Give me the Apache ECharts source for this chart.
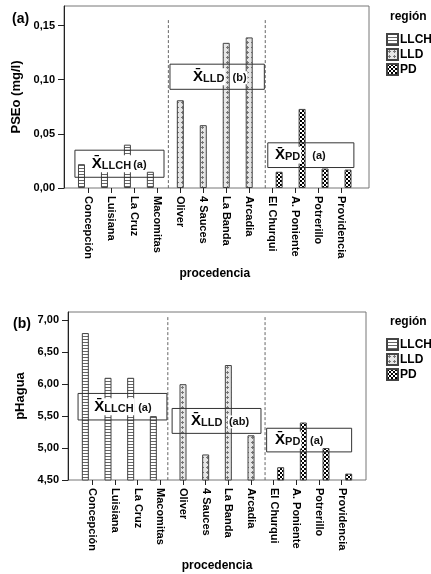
<!DOCTYPE html>
<html>
<head>
<meta charset="utf-8">
<script src="https://cdn.jsdelivr.net/npm/echarts@6/dist/echarts.min.js"></script>
<style>
    * { padding: 0; margin: 0 }
    html, body { width: 100%; height: 100%; background: #fff }
    #container { width: 431px; height: 574px }
</style>
</head>
<body>
<div id="container"></div>
<script>
    // datos
    const procedencia = ['Concepción', 'Luisiana', 'La Cruz', 'Macomitas', 'Oliver', '4 Sauces',
        'La Banda', 'Arcadia', 'El Churqui', 'A. Poniente', 'Potrerillo', 'Providencia'];
    const regiones = ['LLCH', 'LLD', 'PD'];
    const regionDeSitio = [0, 0, 0, 0, 1, 1, 1, 1, 2, 2, 2, 2];
    const pseo = [0.022, 0.017, 0.040, 0.015, 0.081, 0.058, 0.134, 0.139, 0.015, 0.073, 0.018, 0.017];
    const phAgua = [6.80, 6.10, 6.10, 5.50, 6.00, 4.90, 6.30, 5.20, 4.70, 5.40, 5.00, 4.60];
    const pseoTicks = [0, 0.05, 0.10, 0.15];
    const phTicks = [4.5, 5.0, 5.5, 6.0, 6.5, 7.0];
    const letrasPseo = ['(a)', '(b)', '(a)'];
    const letrasPh = ['(a)', '(ab)', '(a)'];

    // cajas de medias (x en unidades de categoria, y en valores del eje)
    const cajasPseo = [[-0.59, 3.29, 0.0099, 0.0349], [3.55, 7.66, 0.0911, 0.1143], [7.81, 11.56, 0.0189, 0.0417]];
    const textoPseo = [[0.10, 2.24], [4.51, 6.58], [8.08, 10.04]];
    const cajasPh = [[-0.63, 3.29, 5.44, 5.855], [3.52, 7.44, 5.23, 5.62], [7.69, 11.44, 4.94, 5.31]];
    const textoPh = [[0.04, 2.32], [4.31, 6.47], [8.02, 9.90]];
    const separadoresPseo = [[3.48, 0.155], [7.70, 0.155]];
    const separadoresPh = [[3.33, 7.05], [7.62, 7.05]];

    const FONT = '"Liberation Sans", Arial, sans-serif';

    function patron(w, h, draw) {
        const c = document.createElement('canvas');
        c.width = w; c.height = h;
        const ctx = c.getContext('2d');
        ctx.fillStyle = '#fff';
        ctx.fillRect(0, 0, w, h);
        draw(ctx);
        return { image: c, repeat: 'repeat' };
    }
    const rayas = patron(4, 3, ctx => { ctx.fillStyle = '#666'; ctx.fillRect(0, 0, 4, 1); });
    const cruces = patron(5, 5, ctx => {
        ctx.fillStyle = '#e6e6e6'; ctx.fillRect(0, 0, 5, 5);
        ctx.fillStyle = '#777'; ctx.fillRect(2, 1, 1, 3); ctx.fillRect(1, 2, 3, 1);
    });
    const damero = patron(4, 4, ctx => {
        ctx.fillStyle = '#000'; ctx.fillRect(0, 0, 2, 2); ctx.fillRect(2, 2, 2, 2);
    });
    const patrones = [rayas, cruces, damero];

    const fmt = v => v.toFixed(2).replace('.', ',');

    function seriesDe(valores, gridIdx) {
        return regiones.map((r, k) => ({
            name: r,
            type: 'bar',
            xAxisIndex: gridIdx,
            yAxisIndex: gridIdx,
            barWidth: 7,
            barGap: '0%',
            itemStyle: { color: patrones[k], borderColor: '#444', borderWidth: 1 },
            data: valores.map((v, i) => regionDeSitio[i] === k ? v : '-')
        }));
    }

    function marco(min, max, ticks, nombre, gap) {
        return {
            type: 'value', min: min, max: max,
            name: nombre, nameLocation: 'middle', nameGap: gap, nameRotate: 90,
            nameTextStyle: { fontFamily: FONT, fontWeight: 'bold', fontSize: 13, color: '#000' },
            axisLine: { show: true, lineStyle: { color: '#222' } },
            axisTick: { show: true, length: 6, customValues: ticks, lineStyle: { color: '#222' } },
            axisLabel: { customValues: ticks, formatter: fmt, margin: 9, fontFamily: FONT, fontWeight: 'bold', fontSize: 11, color: '#000' },
            splitLine: { show: false }
        };
    }
    function ejeOculto(gridIdx, min, max) {
        return { type: 'value', gridIndex: gridIdx, min: min, max: max, show: false, splitLine: { show: false } };
    }
    function ejeCategorias(gridIdx) {
        return {
            type: 'category', gridIndex: gridIdx, data: procedencia,
            name: 'procedencia', nameLocation: 'middle', nameGap: 80,
            nameTextStyle: { fontFamily: FONT, fontWeight: 'bold', fontSize: 12, color: '#000' },
            axisLine: { show: false },
            axisTick: { show: true, alignWithLabel: true, length: 5, lineStyle: { color: '#222' } },
            axisLabel: { rotate: -90, margin: 8, interval: 0, fontFamily: FONT, fontWeight: 'bold', fontSize: 11, color: '#000' }
        };
    }
    function leyenda(top) {
        return {
            orient: 'vertical', left: 386, top: top, padding: 0, itemWidth: 11, itemHeight: 11, itemGap: 2,
            icon: 'rect', data: regiones,
            textStyle: { fontFamily: FONT, fontWeight: 'bold', fontSize: 12, color: '#000', padding: [0, 0, 0, -3] }
        };
    }
    const tituloStyle = { fontFamily: FONT, fontWeight: 'bold', fontSize: 14, color: '#000' };
    const regionStyle = { fontFamily: FONT, fontWeight: 'bold', fontSize: 12, color: '#000' };

    const myChart = echarts.init(document.getElementById('container'));
    myChart.setOption({
        animation: false,
        title: [
            { text: '(a)', left: 12, top: 12, padding: 0, textStyle: tituloStyle },
            { text: 'región', left: 390, top: 11, padding: 0, textStyle: regionStyle },
            { text: '(b)', left: 13, top: 317, padding: 0, textStyle: tituloStyle },
            { text: 'región', left: 390, top: 316, padding: 0, textStyle: regionStyle }
        ],
        legend: [leyenda(33), leyenda(338)],
        grid: [
            { left: 64, top: 6, width: 305, height: 182, show: true, borderColor: '#777', borderWidth: 1 },
            { left: 77, top: 6, width: 275.5, height: 182 },
            { left: 68, top: 312, width: 298, height: 168, show: true, borderColor: '#777', borderWidth: 1 },
            { left: 81, top: 312, width: 272, height: 168 }
        ],
        xAxis: [
            { type: 'value', gridIndex: 0, show: false },
            ejeCategorias(1),
            { type: 'value', gridIndex: 2, show: false },
            ejeCategorias(3)
        ],
        yAxis: [
            Object.assign(marco(0, 0.168, pseoTicks, 'PSEo (mg/l)', 33), { gridIndex: 0 }),
            ejeOculto(1, 0, 0.168),
            Object.assign(marco(4.5, 7.13, phTicks, 'pHagua', 32), { gridIndex: 2 }),
            ejeOculto(3, 4.5, 7.13)
        ],
        series: seriesDe(pseo, 1).concat(seriesDe(phAgua, 3))
    });

    // anotaciones: cajas de medias y separadores, ubicadas con las escalas del grafico
    function px(grid, i, v) {
        const a = myChart.convertToPixel({ gridIndex: grid }, [0, v]);
        const b = myChart.convertToPixel({ gridIndex: grid }, [1, v]);
        return [a[0] + (b[0] - a[0]) * i, a[1]];
    }
    function anotaciones(grid, cajas, textos, letras, seps, base) {
        const out = [];
        cajas.forEach((c, k) => {
            const p0 = px(grid, c[0], c[3]);
            const p1 = px(grid, c[1], c[2]);
            out.push({
                type: 'rect', z: 10,
                shape: { x: p0[0], y: p0[1], width: p1[0] - p0[0], height: p1[1] - p0[1] },
                style: { fill: null, stroke: '#333', lineWidth: 1 }
            });
            const cy = (p0[1] + p1[1]) / 2;
            const t0 = px(grid, textos[k][0], c[2]);
            const t1 = px(grid, textos[k][1], c[2]);
            out.push({
                type: 'text', z: 11, x: t0[0], y: cy,
                style: {
                    text: '{x|X\u0304}{s|' + regiones[k] + '}', verticalAlign: 'middle', align: 'left',
                    backgroundColor: '#fff', padding: [1, 1],
                    rich: {
                        x: { fontFamily: FONT, fontWeight: 'bold', fontSize: 15, fill: '#000' },
                        s: { fontFamily: FONT, fontWeight: 'bold', fontSize: 11, fill: '#111', padding: [4, 0, 0, 0] }
                    }
                }
            });
            out.push({
                type: 'text', z: 11, x: t1[0], y: cy + 1,
                style: {
                    text: letras[k], align: 'center', verticalAlign: 'middle',
                    fontFamily: FONT, fontWeight: 'bold', fontSize: 11, fill: '#111',
                    backgroundColor: '#fff', padding: [1, 1]
                }
            });
        });
        seps.forEach(s => {
            const top = px(grid, s[0], s[1]);
            const bot = px(grid, s[0], base);
            out.push({
                type: 'line', z: 5,
                shape: { x1: top[0], y1: top[1], x2: bot[0], y2: bot[1] },
                style: { stroke: '#666', lineWidth: 1, lineDash: [3, 2] }
            });
        });
        return out;
    }
    myChart.setOption({
        graphic: anotaciones(1, cajasPseo, textoPseo, letrasPseo, separadoresPseo, 0)
            .concat(anotaciones(3, cajasPh, textoPh, letrasPh, separadoresPh, 4.5))
    });
</script>
</body>
</html>
